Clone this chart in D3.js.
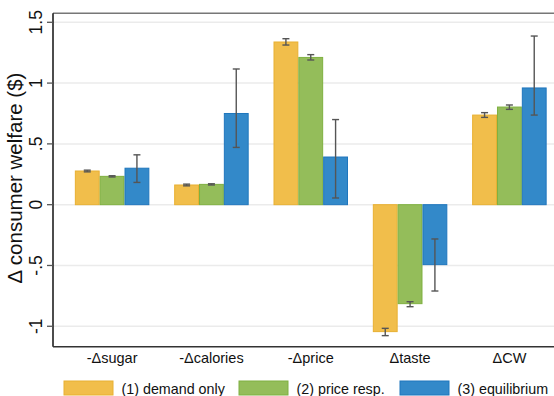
<!DOCTYPE html>
<html>
<head>
<meta charset="utf-8">
<script src="https://cdn.jsdelivr.net/npm/d3@7"></script>
<style>
  body { margin: 0; background: #fff; }
  svg { display: block; font-family: "Liberation Sans", Arial, sans-serif; }
</style>
</head>
<body>
<div id="chart"></div>
<script>
const categories = ['-Δsugar', '-Δcalories', '-Δprice', 'Δtaste', 'ΔCW']
const seriesNames = ['(1) demand only', '(2) price resp.', '(3) equilibrium']
const seriesColors = ['#f1be4b', '#94bd5a', '#3389c9']
const seriesStroke = ['#e8b032', '#7fb040', '#1f76bd']

// point estimates and confidence bounds, one array per series
const demandOnly = [0.277, 0.162, 1.338, -1.044, 0.737]
const demandLo   = [0.270, 0.155, 1.313, -1.077, 0.718]
const demandHi   = [0.284, 0.169, 1.365, -1.017, 0.757]
const priceResp  = [0.233, 0.167, 1.211, -0.814, 0.803]
const priceLo    = [0.228, 0.162, 1.190, -0.839, 0.784]
const priceHi    = [0.238, 0.172, 1.234, -0.798, 0.820]
const equilib    = [0.300, 0.750, 0.392, -0.493, 0.960]
const equilLo    = [0.183, 0.471, 0.055, -0.710, 0.737]
const equilHi    = [0.410, 1.116, 0.700, -0.282, 1.387]

const yTicks = [-1, -0.5, 0, 0.5, 1, 1.5]
const yTickLabels = ['-1', '-.5', '0', '.5', '1', '1.5']

const width = 554
const height = 396
const mLeft = 53, mRight = 568.5, mTop = 13.3, mBottom = 346.7

const series = [
  {vals: demandOnly, lo: demandLo, hi: demandHi},
  {vals: priceResp, lo: priceLo, hi: priceHi},
  {vals: equilib, lo: equilLo, hi: equilHi}
]

const rows = []
series.forEach((s, si) => {
  categories.forEach((c, ci) => {
    rows.push({cat: c, si: si, v: s.vals[ci], lo: s.lo[ci], hi: s.hi[ci]})
  })
})

const svg = d3.select('#chart').append('svg')
  .attr('width', width)
  .attr('height', height)

const x = d3.scaleBand()
  .domain(categories)
  .range([mLeft, mRight])
  .paddingInner(0.25)
  .paddingOuter(0.22)

const xs = d3.scaleBand()
  .domain([0, 1, 2])
  .range([0, x.bandwidth()])

const y = d3.scaleLinear()
  .domain([-1.168, 1.574])
  .range([mBottom, mTop])

// gridlines
svg.append('g')
  .selectAll('line')
  .data(yTicks)
  .join('line')
    .attr('x1', mLeft)
    .attr('x2', width)
    .attr('y1', d => y(d))
    .attr('y2', d => y(d))
    .attr('stroke', '#ebebeb')
    .attr('stroke-width', 1.5)

// top border
svg.append('line')
  .attr('x1', mLeft).attr('x2', width)
  .attr('y1', mTop).attr('y2', mTop)
  .attr('stroke', '#777').attr('stroke-width', 1.4)

// bars
svg.append('g')
  .selectAll('rect')
  .data(rows)
  .join('rect')
    .attr('x', d => x(d.cat) + xs(d.si) + 0.5)
    .attr('width', xs.bandwidth() - 1)
    .attr('y', d => Math.min(y(d.v), y(0)))
    .attr('height', d => Math.abs(y(d.v) - y(0)))
    .attr('fill', d => seriesColors[d.si])
    .attr('stroke', d => seriesStroke[d.si])
    .attr('stroke-width', 1)

// error bars
const eb = svg.append('g')
  .attr('stroke', '#555')
  .attr('stroke-width', 1.4)
  .selectAll('g')
  .data(rows)
  .join('g')
    .attr('transform', d => `translate(${x(d.cat) + xs(d.si) + xs.bandwidth() / 2},0)`)

eb.append('line')
  .attr('y1', d => y(d.lo)).attr('y2', d => y(d.hi))
eb.append('line')
  .attr('x1', -3.5).attr('x2', 3.5)
  .attr('y1', d => y(d.lo)).attr('y2', d => y(d.lo))
eb.append('line')
  .attr('x1', -3.5).attr('x2', 3.5)
  .attr('y1', d => y(d.hi)).attr('y2', d => y(d.hi))

// y axis
svg.append('line')
  .attr('x1', mLeft).attr('x2', mLeft)
  .attr('y1', mTop).attr('y2', mBottom)
  .attr('stroke', '#111').attr('stroke-width', 1.5)

svg.append('g')
  .selectAll('line')
  .data(yTicks)
  .join('line')
    .attr('x1', mLeft - 6).attr('x2', mLeft)
    .attr('y1', d => y(d)).attr('y2', d => y(d))
    .attr('stroke', '#555').attr('stroke-width', 1.3)

svg.append('g')
  .selectAll('text')
  .data(yTicks)
  .join('text')
    .attr('transform', d => `translate(42,${y(d)}) rotate(-90)`)
    .attr('text-anchor', 'middle')
    .attr('font-size', 17.5)
    .attr('fill', '#111')
    .text((d, i) => yTickLabels[i])

svg.append('text')
  .attr('transform', 'translate(22,178) rotate(-90)')
  .attr('text-anchor', 'middle')
  .attr('font-size', 20.5)
  .attr('fill', '#111')
  .text('Δ consumer welfare ($)')

// x axis
svg.append('line')
  .attr('x1', mLeft).attr('x2', width)
  .attr('y1', mBottom).attr('y2', mBottom)
  .attr('stroke', '#333').attr('stroke-width', 1.5)

svg.append('g')
  .selectAll('text')
  .data(categories)
  .join('text')
    .attr('x', d => x(d) + x.bandwidth() / 2)
    .attr('y', 363)
    .attr('text-anchor', 'middle')
    .attr('font-size', 14.5)
    .attr('fill', '#111')
    .text(d => d)

// legend
const legendX = [64, 239, 400]
const lg = svg.append('g')
  .selectAll('g')
  .data(seriesNames)
  .join('g')
    .attr('transform', (d, i) => `translate(${legendX[i]},381)`)

lg.append('rect')
  .attr('width', 49).attr('height', 14)
  .attr('fill', (d, i) => seriesColors[i])
  .attr('stroke', (d, i) => seriesStroke[i])
  .attr('stroke-width', 1)

lg.append('text')
  .attr('x', 57.5)
  .attr('y', 12.5)
  .attr('font-size', 14.3)
  .attr('fill', '#111')
  .text(d => d)
</script>
</body>
</html>
